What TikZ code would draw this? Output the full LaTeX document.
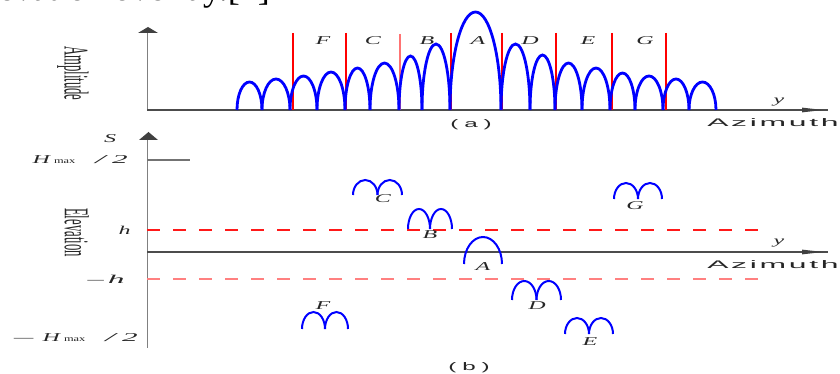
\documentclass[tikz,border=0pt]{standalone}
\usepackage{fontspec}
\usepackage{graphicx}
\setmainfont{Liberation Serif}
\newfontfamily\azfont{Liberation Sans}
\newcommand{\hx}[1]{\scalebox{2}[1]{#1}}
\newcommand{\azw}{\scalebox{2.9}[1]{A\kern0.7pt z\kern0.7pt i\kern0.7pt m\kern0.7pt u\kern0.7pt t\kern0.7pt h}}
\newcommand{\hmaxtwo}{\hx{\textit{H}}\hspace{2.25pt}\scalebox{1.55}[1]{\fontsize{6}{6}\selectfont max}\hspace{15pt}\scalebox{3}[1]{\textit{/}}\hspace{3pt}\scalebox{2.6}[1]{\textit{2}}}
\newcommand{\lobearc}[5][lobe]{%
  \draw[#1] ({#2},{#4}) .. controls ({#2},{#4-0.5523*(#4-#5)}) and ({(#2+#3)/2-0.5523*(#3-#2)/2},{#5}) .. ({(#2+#3)/2},{#5})
     .. controls ({(#2+#3)/2+0.5523*(#3-#2)/2},{#5}) and ({#3},{#4-0.5523*(#4-#5)}) .. ({#3},{#4});}
\newcommand{\lobepair}[4]{% x0, x1, base, top
  \lobearc[slobe]{#1}{(#1+#2)/2}{#3}{#4}\lobearc[slobe]{(#1+#2)/2}{#2}{#3}{#4}}
\begin{document}
\begin{tikzpicture}[x=0.75pt,y=-0.75pt,
  lobe/.style={draw=blue, line width=2.1pt},
  slobe/.style={draw=blue, line width=1.5pt},
  axisv/.style={draw=black!50, line width=0.9pt},
  axish/.style={draw=black!70, line width=0.8pt},
  headc/.style={fill=black!75},
  redline/.style={draw=red, line width=1.1pt},
  hdash/.style={line width=1pt, dash pattern=on 9.75pt off 9.75pt},
  lbl/.style={font=\fontsize{9}{9}\selectfont, text=black!85, inner sep=0pt},
  az/.style={font=\azfont\fontsize{8.25}{8.25}\selectfont, text=black!85, inner sep=0pt},
  side/.style={font=\fontsize{26}{26}\selectfont, text=black!85, inner sep=0pt, rotate=-90}
]
\useasboundingbox (0,0) rectangle (840,374);

% caption remnant at top
\node[anchor=base west, inner sep=0pt, font=\fontsize{27}{28}\selectfont] (cap) at (-2,1) {evation overlay.[2]};

% ---------- panel (a) ----------
\draw[axisv] (147.5,110) -- (147.5,33);
\fill[headc] (138,33) -- (158,33) -- (148,27) -- cycle;
\draw[axish] (147,110) -- (828,110);
\fill[headc] (802,107.6) -- (823,110) -- (802,112.4) -- cycle;

\foreach \xa in {293,346,451,502,556,612,666}
  \draw[redline] (\xa,33) -- (\xa,110);
\draw[redline, draw=red!55] (400,34) -- (400,110);

\foreach \xa/\xb/\pk in {237/262/82, 262/290/79, 290/317/76, 317/345/72, 345/370/68,
    370/399/63, 399/422/56, 422/450/44, 450/501/12, 501/530/44, 530/555/55, 555/582/63,
    582/610/68, 610/635/73, 635/663/76, 663/689/79, 689/716/82}
  {\lobearc{\xa}{\xb}{110}{\pk}}

\node[lbl] (tF) at (323,41) {\hx{\textit{F}}};
\node[lbl] (tC) at (373,41) {\hx{\textit{C}}};
\node[lbl] (tB) at (427,41) {\hx{\textit{B}}};
\node[lbl] (tA) at (478,41) {\hx{\textit{A}}};
\node[lbl] (tD) at (530,41) {\hx{\textit{D}}};
\node[lbl] (tE) at (588,41) {\hx{\textit{E}}};
\node[lbl] (tG) at (645,41) {\hx{\textit{G}}};

\node[lbl] (ya) at (779,102) {\hx{\textit{y}}};
\node[az, anchor=west] (aza) at (707,123) {\azw};
\node[az] (capa) at (471,125) {\scalebox{2.2}[1]{(\kern2pt a\kern2pt )}};
\node[side] (amp) at (73,73.5) {\scalebox{0.365}[1]{Amplitude}};

% ---------- panel (b) ----------
\draw[axisv] (147.5,348) -- (147.5,140);
\fill[headc] (139,140) -- (158,140) -- (148.5,132) -- cycle;
\draw[axish] (147,252) -- (828,252);
\fill[headc] (802,249.6) -- (823,252) -- (802,254.4) -- cycle;
\draw[axish, draw=black!55] (147,160) -- (190,160);

\draw[hdash, draw=red!90] (147,230) -- (758,230);
\draw[hdash, draw=red!50] (147,279) -- (758,279);

\node[lbl] (S) at (110,139) {\hx{\textit{S}}};
\node[lbl, anchor=east] (Hp) at (128,160) {\hmaxtwo};
\node[lbl, anchor=east] (hp) at (131,230) {\hx{\textit{h}}};
\node[lbl, anchor=east] (hm) at (125,279) {\scalebox{2.7}[1]{--}\hspace{3pt}\scalebox{2.8}[1]{\textit{h}}};
\node[lbl, anchor=east] (Hm) at (138,338) {\scalebox{3.2}[1]{--}\hspace{7pt}\hmaxtwo};

\node[side] (elev) at (76.8,232.5) {\scalebox{0.365}[1]{Elevation}};

\lobepair{353}{402}{195}{180}
\lobepair{408}{452}{229}{209}
\lobearc[slobe]{464}{502}{264}{237}
\lobepair{512}{561}{300}{281}
\lobepair{565}{613}{334}{318}
\lobepair{614}{662}{199}{183}
\lobepair{302}{348}{329}{312}

\node[lbl] (bC) at (383,199) {\hx{\textit{C}}};
\node[lbl] (bB) at (430,235) {\hx{\textit{B}}};
\node[lbl] (bA) at (483,267) {\hx{\textit{A}}};
\node[lbl] (bD) at (537,306) {\hx{\textit{D}}};
\node[lbl] (bE) at (590,342) {\hx{\textit{E}}};
\node[lbl] (bG) at (635,206) {\hx{\textit{G}}};
\node[lbl] (bF) at (323,306) {\hx{\textit{F}}};

\node[lbl] (yb) at (779,243) {\hx{\textit{y}}};
\node[az, anchor=west] (azb) at (707,265) {\azw};
\node[az] (capb) at (469,368) {\scalebox{2.2}[1]{(\kern2pt b\kern2pt )}};
\end{tikzpicture}
\end{document}
